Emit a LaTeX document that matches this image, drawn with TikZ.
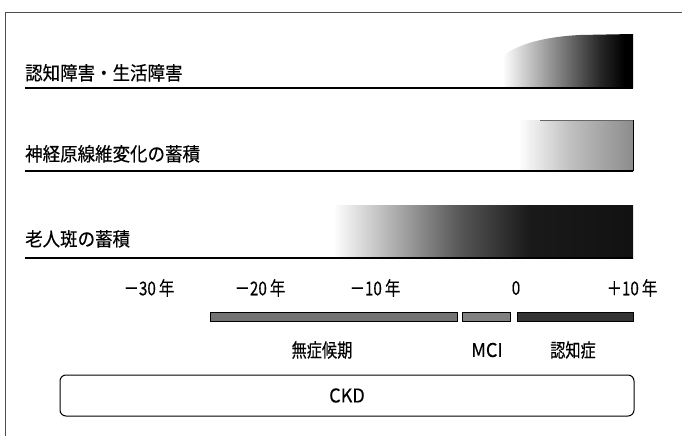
\documentclass[tikz,border=0pt]{standalone}
\usepackage{fontspec}
\setmainfont{Noto Sans CJK JP}
\newfontfamily\condfont[FakeStretch=0.92,FakeBold=0.4]{Noto Sans CJK JP}
\newfontfamily\narrowfont[FakeStretch=0.8,FakeBold=0.3]{Noto Sans CJK JP}
\newfontfamily\latfont[FakeStretch=0.95,FakeBold=0.3]{Noto Sans CJK JP}
\pgfdeclarehorizontalshading{shA}{100bp}{color(0bp)=(white); color(27bp)=(white); color(48bp)=(black!50); color(63bp)=(black!85); color(72bp)=(black); color(100bp)=(black)}
\pgfdeclarehorizontalshading{shB}{100bp}{color(0bp)=(white); color(29bp)=(white); color(50bp)=(black!25); color(75bp)=(black!45); color(100bp)=(black!45)}
\pgfdeclarehorizontalshading{shC}{100bp}{color(0bp)=(white); color(25.5bp)=(white); color(35bp)=(black!30); color(46bp)=(black!65); color(58bp)=(black!90); color(75bp)=(black!93); color(100bp)=(black!93)}
\tikzset{
  rowlbl/.style={anchor=base west, inner sep=0pt, font=\condfont\fontsize{19}{19}\selectfont},
  axlbl/.style={anchor=center, inner sep=0pt, font=\narrowfont\fontsize{19}{19}\selectfont},
  stlbl/.style={anchor=center, inner sep=0pt, font=\narrowfont\fontsize{19}{19}\selectfont},
  latlbl/.style={anchor=center, inner sep=0pt, font=\latfont\fontsize{19}{19}\selectfont},
  uline/.style={line width=1.1pt},
  frameline/.style={line width=0.6pt, black!70},
  stagebar/.style={draw=black, line width=0.6pt},
}
\begin{document}
\begin{tikzpicture}[x=1pt,y=-1pt]
\useasboundingbox (0,0) rectangle (682,436);
% frame
\coordinate (ftl) at (5,12);
\coordinate (ftr) at (682,12);
\coordinate (fbl) at (5,436);
\draw[frameline] (ftr) -- (ftl) -- (fbl);
% row 1
\shade[shading=shA] (633,34) -- (633,88) -- (497,88) -- (497,62) .. controls (510,46) and (540,37) .. (580,35) -- cycle;
\node[rowlbl] (r1) at (25,80) {認知障害・生活障害};
\coordinate (u1a) at (25,88); \coordinate (u1b) at (633,88);
\draw[uline] (u1a) -- (u1b);
% row 2
\shade[shading=shB] (508,120) rectangle (633,171);
\draw[line width=0.6pt] (633,120) -- (633,171);
\draw[line width=0.4pt, black!60] (540,120) -- (633,120);
\node[rowlbl] (r2) at (25,161) {神経原線維変化の蓄積};
\coordinate (u2a) at (25,171); \coordinate (u2b) at (633,171);
\draw[uline] (u2a) -- (u2b);
% row 3
\shade[shading=shC] (330,205) rectangle (633,258);
\node[rowlbl] (r3) at (25,246) {老人斑の蓄積};
\coordinate (u3a) at (25,258); \coordinate (u3b) at (633,258);
\draw[uline] (u3a) -- (u3b);
% axis labels
\node[axlbl] (t30) at (149,288) {－30\,年};
\node[axlbl] (t20) at (260,288) {－20\,年};
\node[axlbl] (t10) at (375,288) {－10\,年};
\node[axlbl] (t0) at (516,288) {0};
\node[axlbl] (tp10) at (632,288) {＋10\,年};
% stage bars
\path[stagebar, fill=black!55] (210,312) rectangle (457,321);
\path[stagebar, fill=black!50] (462,312) rectangle (510,321);
\path[stagebar, fill=black!80] (517,312) rectangle (633,321);
\node[stlbl] (s1) at (322,350) {無症候期};
\node[latlbl] (s2) at (487,350) {MCI};
\node[stlbl] (s3) at (573,350) {認知症};
% CKD
\node[draw, line width=1pt, rounded corners=6pt, minimum width=574pt, minimum height=41pt, font=\latfont\fontsize{19}{19}\selectfont] (ckd) at (347,395.5) {CKD};
\end{tikzpicture}
\end{document}
